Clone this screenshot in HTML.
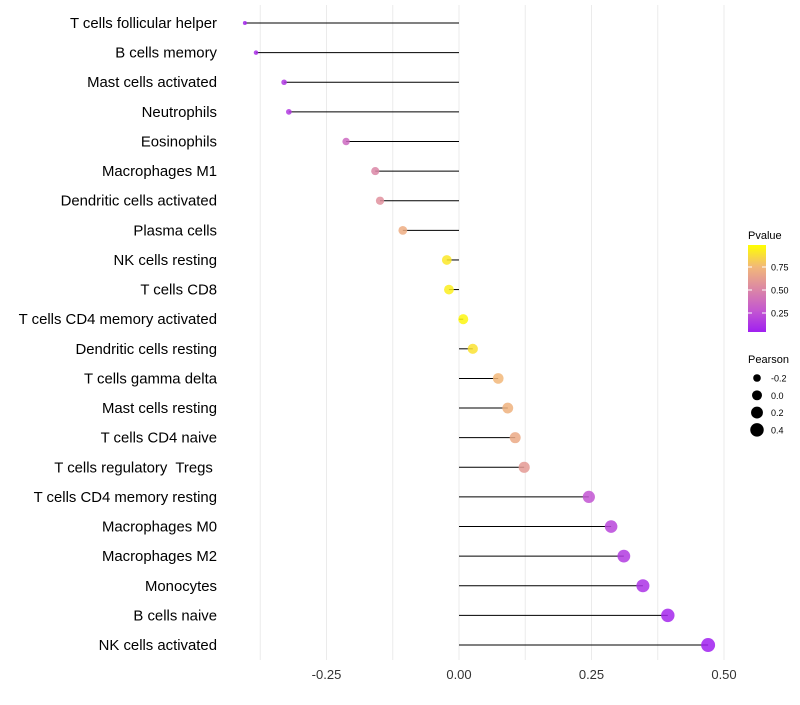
<!DOCTYPE html>
<html><head><meta charset="utf-8"><style>
body{margin:0;background:#fff;font-family:"Liberation Sans",sans-serif}
svg text{font-family:"Liberation Sans",sans-serif;white-space:pre}
</style></head><body>
<svg id="chart" width="800" height="700" xmlns="http://www.w3.org/2000/svg">
<defs><linearGradient id="pg" x1="0" y1="1" x2="0" y2="0">
<stop offset="0" stop-color="#a020f0"/><stop offset="0.25" stop-color="#c458d0"/><stop offset="0.5" stop-color="#dc88a4"/><stop offset="0.75" stop-color="#f2b878"/><stop offset="1" stop-color="#ffff00"/></linearGradient></defs>
<g id="grid"></g>
<g id="marks"></g>
<g id="ylab"></g>
<g id="xlab"></g>
<g>
<text x="748" y="239" font-size="11" fill="#000">Pvalue</text>
<rect x="748" y="245" width="18" height="87" fill="url(#pg)"/>
<g id="cbticks"></g>
</g>
<g id="sizeleg">
<text x="748" y="363" font-size="11" fill="#000">Pearson</text>
</g>
</svg>
<script>
const categories=["T cells follicular helper","B cells memory","Mast cells activated","Neutrophils","Eosinophils","Macrophages M1","Dendritic cells activated","Plasma cells","NK cells resting","T cells CD8","T cells CD4 memory activated","Dendritic cells resting","T cells gamma delta","Mast cells resting","T cells CD4 naive","T cells regulatory  Tregs ","T cells CD4 memory resting","Macrophages M0","Macrophages M2","Monocytes","B cells naive","NK cells activated"];
const pearson=[-0.404,-0.383,-0.330,-0.321,-0.213,-0.158,-0.149,-0.106,-0.023,-0.019,0.008,0.026,0.074,0.092,0.106,0.123,0.245,0.287,0.311,0.347,0.394,0.470];
const pvalue=[0.05,0.08,0.12,0.14,0.35,0.5,0.55,0.7,0.92,0.94,0.97,0.9,0.75,0.72,0.68,0.6,0.25,0.18,0.14,0.1,0.05,0.02];
const xTicks=[-0.25,0,0.25,0.5];
const xTickLabels=["-0.25","0.00","0.25","0.50"];
const cbTicks=[0.25,0.5,0.75];
const sizeLegend=[-0.2,0,0.2,0.4];
const NS="http://www.w3.org/2000/svg";
const x=v=>459+v*530;
const y=i=>23+i*29.62;
const pMin=0.02,pMax=1;
const rOf=v=>Math.sqrt(4+(v+0.404)/0.874*45);
const stops=[[0,[160,32,240]],[0.25,[196,88,208]],[0.5,[220,136,164]],[0.75,[242,184,120]],[1,[255,255,0]]];
function col(p){let t=Math.max(0,Math.min(1,(p-pMin)/(pMax-pMin)));for(let k=0;k<stops.length-1;k++){const[a,c1]=stops[k],[b,c2]=stops[k+1];if(t<=b){const f=(t-a)/(b-a);return"rgb("+c1.map((c,j)=>Math.round(c+(c2[j]-c)*f)).join(",")+")";}}return"rgb(255,255,0)";}
function mk(tag,attrs,parent){const e=document.createElementNS(NS,tag);for(const k in attrs)e.setAttribute(k,attrs[k]);parent.appendChild(e);return e;}
const grid=document.getElementById('grid');
[-0.375,-0.25,-0.125,0,0.125,0.25,0.375,0.5].forEach(v=>{const l=mk('line',{x1:x(v),x2:x(v),y1:5,y2:660,stroke:'#ebebeb','stroke-width':1},grid);

});
const marks=document.getElementById('marks'),ylab=document.getElementById('ylab');
categories.forEach((c,i)=>{
const l=mk('line',{x1:x(0),x2:x(pearson[i]),y1:y(i),y2:y(i),stroke:'#000','stroke-width':1},marks);


const d=mk('circle',{cx:x(pearson[i]),cy:y(i),r:rOf(pearson[i]),fill:col(pvalue[i]),'fill-opacity':0.85},marks);


const t=mk('text',{x:217,y:y(i)+5,'text-anchor':'end','font-size':14.9,fill:'#000'},ylab);t.textContent=c;


});
const xl=document.getElementById('xlab');
xTicks.forEach((v,i)=>{const t=mk('text',{x:x(v),y:679,'text-anchor':'middle','font-size':13,fill:'#333'},xl);t.textContent=xTickLabels[i];

});
const cb=document.getElementById('cbticks');
cbTicks.forEach(v=>{const yy=244+(1-v)/0.25*23;
mk('line',{x1:748,x2:752,y1:yy,y2:yy,stroke:'#fff'},cb);mk('line',{x1:762,x2:766,y1:yy,y2:yy,stroke:'#fff'},cb);
const t=mk('text',{x:771,y:yy+3.5,'font-size':9,fill:'#000'},cb);t.textContent=v.toFixed(2);

});
const sl=document.getElementById('sizeleg');
sizeLegend.forEach((v,i)=>{const yy=378+i*17.3;
const c=mk('circle',{cx:757,cy:yy,r:rOf(v),fill:'#000'},sl);


const t=mk('text',{x:771,y:yy+3.5,'font-size':9,fill:'#000'},sl);t.textContent=v.toFixed(1);

});
</script>
</body></html>
